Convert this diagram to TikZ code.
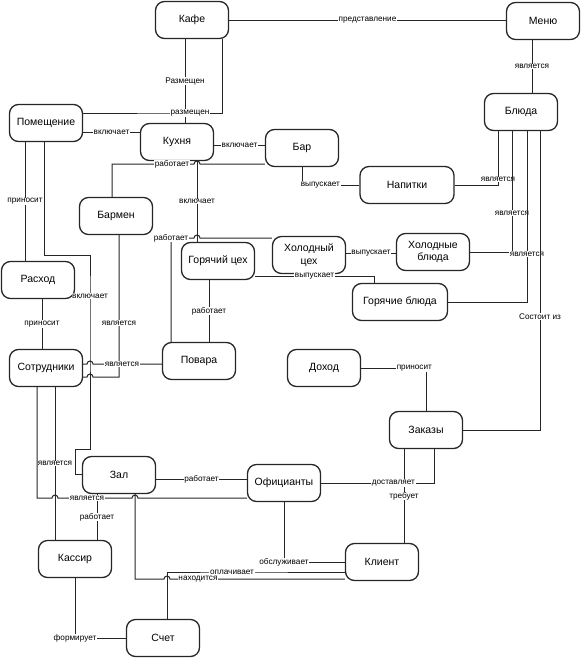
\documentclass[tikz,border=0pt]{standalone}
\usepackage{fontspec}
\setmainfont{Liberation Sans}
\usepackage{tikz}

\begin{document}
\begin{tikzpicture}[x=1pt, y=-1pt,
    ent/.style={draw=black!85, line width=1.3pt, rounded corners=9pt,
      minimum width=73pt, minimum height=37pt, align=center,
      font=\fontsize{10.5}{12.5}\selectfont},
    link/.style={draw=black!85, line width=1pt},
    lbl/.style={fill=white, inner sep=0.6pt, font=\fontsize{8.2}{9}\selectfont}]

  \useasboundingbox (0,0) rectangle (583,659);

  % Entities
  \node[ent] (kafe) at (192,20) {Кафе};
  \node[ent] (menu) at (543,21) {Меню};
  \node[ent] (bluda) at (521,112) {Блюда};
  \node[ent] (pom) at (46,123) {Помещение};
  \node[ent] (kuhnya) at (177,142) {Кухня};
  \node[ent] (bar) at (302,148) {Бар};
  \node[ent, minimum width=94pt] (napitki) at (407,185) {Напитки};
  \node[ent] (barmen) at (116,216) {Бармен};
  \node[ent] (gcex) at (218,261) {Горячий цех};
  \node[ent] (hcex) at (309,255) {Холодный\\цех};
  \node[ent] (hbl) at (433,252) {Холодные\\блюда};
  \node[ent, minimum width=95pt] (gbl) at (400,302) {Горячие блюда};
  \node[ent] (rashod) at (38,280) {Расход};
  \node[ent] (povara) at (199,361) {Повара};
  \node[ent] (dohod) at (324,368) {Доход};
  \node[ent] (sotr) at (46,368) {Сотрудники};
  \node[ent] (zakaz) at (426,430) {Заказы};
  \node[ent] (zal) at (119,475) {Зал};
  \node[ent] (ofic) at (284,483) {Официанты};
  \node[ent] (kassir) at (75,559) {Кассир};
  \node[ent] (klient) at (382,562) {Клиент};
  \node[ent] (schet) at (163,638) {Счет};

  % Cafe, menu, rooms
  \draw[link] (kafe.east) -- node[lbl]{представление} (kafe.east -| menu.west);
  \draw[link] ([xshift=-11pt]menu.south) -- node[lbl]{является} ([xshift=11pt]bluda.north);
  \draw[link] ([xshift=-7pt]kafe.south) -- node[lbl]{Размещен} ([xshift=8pt]kuhnya.north);
  \draw[link] ([xshift=30pt]kafe.south) |- (190,113) node[lbl]{размещен} -- (pom.east |- 0,113);
  \draw[link] (pom.east |- 0,132) -- node[lbl]{включает} (kuhnya.west |- 0,132);
  \draw[link] (kuhnya.east |- 0,145) -- node[lbl]{включает} (bar.west |- 0,145);

  % Kitchen and bar
  \draw[link] ([xshift=20pt]kuhnya.south) -- node[lbl]{включает} ([xshift=-21pt]gcex.north);
  \draw[link] ([xshift=-4pt]barmen.north) |- (172,164) node[lbl]{работает}
    -- (194,164) arc[start angle=180, end angle=0, radius=3pt] -- (bar.west |- 0,164);
  \draw[link] ([xshift=-28pt]povara.north) -- (171,238) node[lbl]{работает}
    -- (194,238) arc[start angle=180, end angle=0, radius=3pt] -- (hcex.west |- 0,238);
  \draw[link] (bar.south) |- node[lbl, pos=0.66]{выпускает} (napitki.west);
  \draw[link] (hcex.east |- 0,253) -- node[lbl]{выпускает} (hbl.west |- 0,253);
  \draw[link] (gcex.east |- 0,276) -| node[lbl, pos=0.25]{выпускает} ([xshift=-26pt]gbl.north);
  \draw[link] ([xshift=-9pt]gcex.south) -- node[lbl]{работает} ([xshift=10pt]povara.north);

  % Dishes
  \draw[link] (napitki.east) -| node[lbl, pos=0.55]{является} ([xshift=-23pt]bluda.south);
  \draw[link] (hbl.east) -| node[lbl, pos=0.66]{является} ([xshift=-9pt]bluda.south);
  \draw[link] (gbl.east) -| node[lbl, pos=0.64]{является} ([xshift=6pt]bluda.south);
  \draw[link] (zakaz.east) -| node[lbl, pos=0.69]{Состоит из} ([xshift=19pt]bluda.south);

  % Staff
  \draw[link] ([xshift=-21pt]pom.south) -- node[lbl]{приносит} ([xshift=-13pt]rashod.north);
  \draw[link] ([xshift=-2pt]pom.south) |- (90,255) -- (90,296) node[lbl]{включает}
    -- (90,449) -| (75,474) -- (zal.west |- 0,474);
  \draw[link] ([xshift=4pt]rashod.south) -- node[lbl]{приносит} ([xshift=-4pt]sotr.north);
  \draw[link] ([xshift=3pt]barmen.south) -- (119,323) node[lbl]{является}
    |- (93,377) arc[start angle=0, end angle=180, radius=3pt] -- (sotr.east |- 0,377);
  \draw[link] (povara.west |- 0,364) -- (122,364) node[lbl]{является}
    -- (93,364) arc[start angle=0, end angle=180, radius=3pt] -- (sotr.east |- 0,364);
  \draw[link] ([xshift=9pt]sotr.south) -- node[lbl]{является} ([xshift=-20pt]kassir.north);
  \draw[link] ([xshift=-22pt]zal.south) -- node[lbl]{работает} ([xshift=22pt]kassir.north);
  \draw[link] ([xshift=-9pt]sotr.south) |- (52,498) arc[start angle=180, end angle=0, radius=3pt]
    -- (87,498) node[lbl]{является} -- (132,498) arc[start angle=180, end angle=0, radius=3pt]
    -- (ofic.west |- 0,498);
  \draw[link] (zal.east |- 0,479) -- node[lbl]{работает} (ofic.west |- 0,479);

  % Client, orders, bill
  \draw[link] (klient.west |- 0,579) -- (198,579) node[lbl]{находится}
    -- (170,579) arc[start angle=0, end angle=180, radius=3pt] -| ([xshift=16pt]zal.south);
  \draw[link] (klient.west |- 0,572) -- (232,572) node[lbl]{оплачивает} -| ([xshift=4pt]schet.north);
  \draw[link] (ofic.south) |- node[lbl]{обслуживает} (klient.west);
  \draw[link] ([xshift=22pt]klient.north) -- node[lbl]{требует} ([xshift=-22pt]zakaz.south);
  \draw[link] (ofic.east) -| node[lbl, pos=0.32]{доставляет} ([xshift=8pt]zakaz.south);
  \draw[link] (dohod.east) -| node[lbl, pos=0.41]{приносит} (zakaz.north);
  \draw[link] (kassir.south) |- node[lbl]{формирует} (schet.west);

\end{tikzpicture}
\end{document}
